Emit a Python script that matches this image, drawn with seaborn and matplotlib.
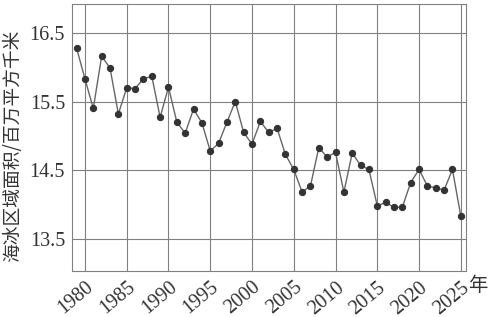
import matplotlib
matplotlib.use("Agg")
import matplotlib.pyplot as plt
import seaborn as sns
import pandas as pd

years = list(range(1979, 2026))
area = [16.28, 15.83, 15.40, 16.16, 15.99, 15.32, 15.70, 15.69, 15.83, 15.87,
        15.27, 15.71, 15.20, 15.04, 15.39, 15.19, 14.78, 14.89, 15.20, 15.50,
        15.05, 14.88, 15.21, 15.05, 15.11, 14.73, 14.51, 14.18, 14.27, 14.83,
        14.69, 14.76, 14.18, 14.75, 14.57, 14.51, 13.98, 14.03, 13.96, 13.96,
        14.32, 14.51, 14.27, 14.24, 14.21, 14.51, 13.83]
xticks = [1980, 1985, 1990, 1995, 2000, 2005, 2010, 2015, 2020, 2025]
yticks = [13.5, 14.5, 15.5, 16.5]

sns.set_theme(style="white")
plt.rcParams['font.family'] = ['Liberation Serif', 'Noto Sans CJK SC', 'DejaVu Sans']

df = pd.DataFrame({"year": years, "area": area})

fig = plt.figure(figsize=(4.99, 3.17), dpi=100)
ax = fig.add_axes([0.1443, 0.145, 0.7897, 0.842])

sns.lineplot(data=df, x="year", y="area", ax=ax, color="#666666", linewidth=1.0,
             marker="o", markersize=4.5, markerfacecolor="#333333",
             markeredgecolor="#333333", zorder=3)

ax.set_xlim(1978.45, 2025.63)
ax.set_ylim(13.03, 16.92)
ax.set_xticks(xticks)
ax.set_yticks(yticks)
ax.set_xticklabels([str(t) for t in xticks], rotation=40, ha="right",
                   rotation_mode="anchor", fontsize=14.5, color="#333333")
ax.set_yticklabels([str(t) for t in yticks], fontsize=14.5, color="#333333")
ax.grid(True, color="#808080", linewidth=0.8)
for s in ax.spines.values():
    s.set_color("#808080")
    s.set_linewidth(0.8)
ax.tick_params(axis="both", direction="out", length=3, width=0.8, color="#555555", pad=2)
ax.set_xlabel("")
ax.set_ylabel("海冰区域面积/百万平方千米", fontsize=13.5, color="#333333",
              family=['Noto Sans CJK SC', 'DejaVu Sans'])
ax.yaxis.set_label_coords(-0.125, 0.47)
ax.text(1.005, -0.015, "年", transform=ax.transAxes, fontsize=14, color="#333333",
        family=['Noto Sans CJK SC', 'DejaVu Sans'], ha="left", va="top")

fig.savefig("out.png", dpi=100, facecolor="white")
